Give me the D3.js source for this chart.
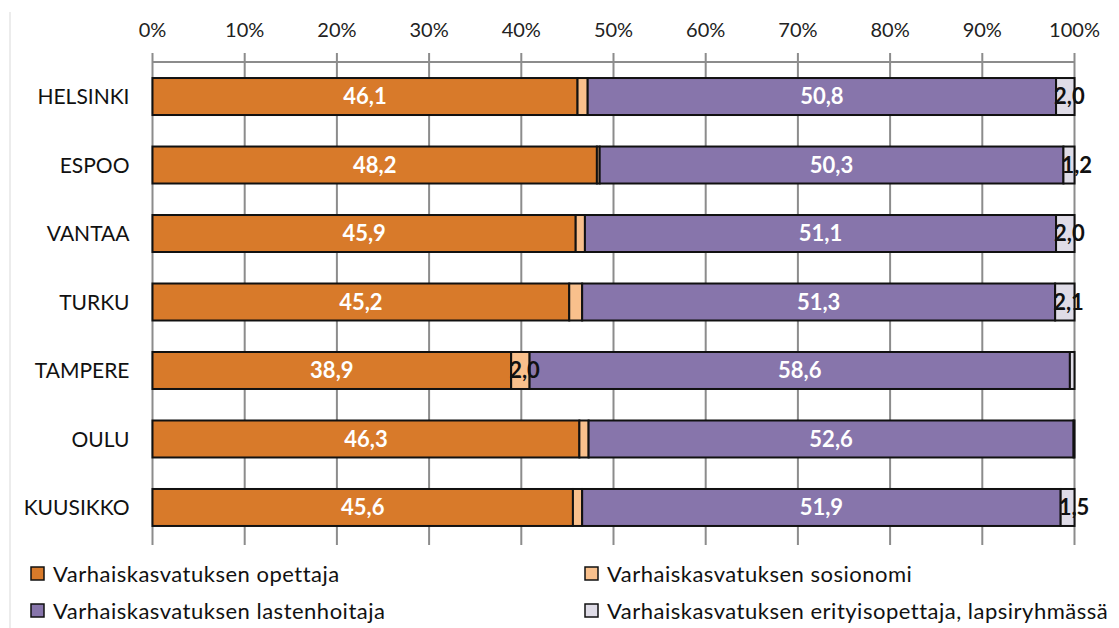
<!DOCTYPE html>
<html>
<head>
<meta charset="utf-8">
<script src="https://cdn.jsdelivr.net/npm/d3@7"></script>
<style>
  body { margin: 0; background: #fff; }
  svg { font-family: Lato, "Open Sans", sans-serif; }
</style>
</head>
<body>
<svg id="chart" width="1119" height="628"></svg>
<script>
const cities = ["HELSINKI", "ESPOO", "VANTAA", "TURKU", "TAMPERE", "OULU", "KUUSIKKO"];
const opettaja = [46.1, 48.2, 45.9, 45.2, 38.9, 46.3, 45.6];
const sosionomi = [1.1, 0.3, 1.0, 1.4, 2.0, 1.0, 1.0];
const lastenhoitaja = [50.8, 50.3, 51.1, 51.3, 58.6, 52.6, 51.9];
const erityis = [2.0, 1.2, 2.0, 2.1, 0.5, 0.1, 1.5];
const seriesNames = [
  "Varhaiskasvatuksen opettaja",
  "Varhaiskasvatuksen sosionomi",
  "Varhaiskasvatuksen lastenhoitaja",
  "Varhaiskasvatuksen erityisopettaja, lapsiryhmässä"
];
const ticks = [0, 10, 20, 30, 40, 50, 60, 70, 80, 90, 100];

const series = [
  { name: seriesNames[0], values: opettaja, color: "#d87a2a", text: "#fff", minLabel: 5, small: false },
  { name: seriesNames[1], values: sosionomi, color: "#f9c08c", text: "#111", minLabel: 2, small: true },
  { name: seriesNames[2], values: lastenhoitaja, color: "#8775ab", text: "#fff", minLabel: 5, small: false },
  { name: seriesNames[3], values: erityis, color: "#dfdce7", text: "#111", minLabel: 1, small: true }
];

const svg = d3.select("#chart");
const margin = { top: 62, left: 152.5, right: 44.5, bottom: 86 };
const width = 1119 - margin.left - margin.right;
const height = 628 - margin.top - margin.bottom;

// chart border on the left
svg.append("line")
  .attr("x1", 10).attr("x2", 10).attr("y1", 12).attr("y2", 628)
  .attr("stroke", "#d9d9d9").attr("stroke-width", 1);

const g = svg.append("g").attr("transform", "translate(" + margin.left + "," + margin.top + ")");

const x = d3.scaleLinear().domain([0, 100]).range([0, width]);
const y = d3.scaleBand().domain(cities).range([0, height]).paddingInner(0.46).paddingOuter(0.234);

// gridlines
g.selectAll(".grid").data(ticks).enter().append("line")
  .attr("x1", d => x(d)).attr("x2", d => x(d))
  .attr("y1", -9).attr("y2", height + 3)
  .attr("stroke", "#8c8c8c").attr("stroke-width", 2);

g.append("line")
  .attr("x1", 0).attr("x2", width).attr("y1", 0).attr("y2", 0)
  .attr("stroke", "#8c8c8c").attr("stroke-width", 2);

// tick labels
g.selectAll(".tick-label").data(ticks).enter().append("text")
  .attr("x", d => x(d)).attr("y", -25)
  .attr("text-anchor", "middle")
  .style("font-size", "20px").style("fill", "#222")
  .text(d => d + "%");

// stacked bars
const stackData = cities.map((c, i) => {
  let start = 0;
  return series.map(s => {
    const seg = { city: c, x0: start, x1: start + s.values[i], v: s.values[i], s: s };
    start += s.values[i];
    return seg;
  });
});

const rows = g.selectAll(".row").data(stackData).enter().append("g");

rows.selectAll("rect").data(d => d).enter().append("rect")
  .attr("x", d => x(d.x0))
  .attr("y", d => y(d.city))
  .attr("width", d => x(d.x1) - x(d.x0))
  .attr("height", y.bandwidth())
  .attr("fill", d => d.s.color)
  .attr("stroke", "#111").attr("stroke-width", 2);

const fmt = v => v.toFixed(1).replace(".", ",");

// labels in narrow segments spill to the right, like the original
rows.selectAll("text").data(d => d.filter(e => e.v >= e.s.minLabel)).enter().append("text")
  .attr("x", d => d.s.small ? x(d.x0) - 2 : x((d.x0 + d.x1) / 2))
  .attr("y", d => y(d.city) + y.bandwidth() / 2)
  .attr("dy", "0.36em")
  .attr("text-anchor", d => d.s.small ? "start" : "middle")
  .style("font-size", "22px").style("font-weight", "bold")
  .style("fill", d => d.s.text)
  .text(d => fmt(d.v));

// category labels
g.selectAll(".cat").data(cities).enter().append("text")
  .attr("x", -23).attr("y", d => y(d) + y.bandwidth() / 2)
  .attr("dy", "0.36em").attr("text-anchor", "end")
  .style("font-size", "21px").style("fill", "#111")
  .text(d => d);

// legend
const legendPos = [[31, 574], [585, 574], [31, 611], [585, 611]];
const legend = svg.selectAll(".legend").data(series).enter().append("g")
  .attr("transform", (d, i) => "translate(" + legendPos[i][0] + "," + legendPos[i][1] + ")");
legend.append("rect")
  .attr("x", 0).attr("y", -7).attr("width", 13).attr("height", 13)
  .attr("fill", d => d.color).attr("stroke", "#111").attr("stroke-width", 1.5);
legend.append("text")
  .attr("x", 22).attr("dy", "0.36em")
  .style("font-size", "22px").style("letter-spacing", "0.5px").style("fill", "#111")
  .text(d => d.name);
</script>
</body>
</html>
